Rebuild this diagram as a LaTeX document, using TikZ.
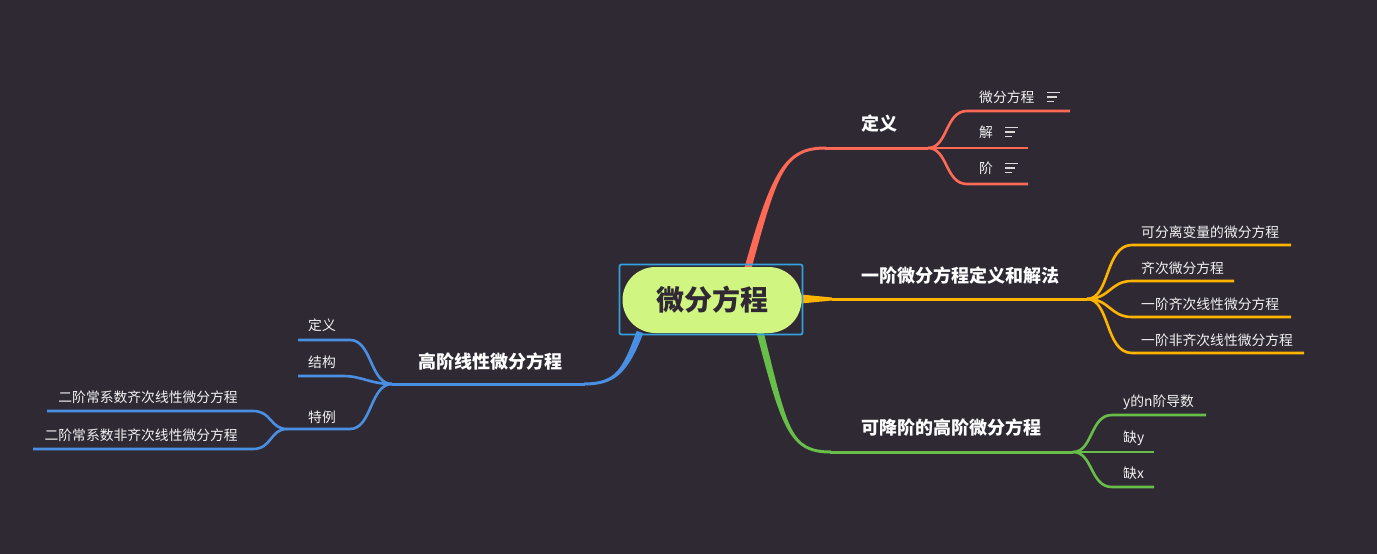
\documentclass[tikz,border=0pt]{standalone}
\usepackage{fontspec}
\usetikzlibrary{calc}
\setmainfont{Noto Sans CJK SC}
\begin{document}
\begin{tikzpicture}[x=1pt,y=-1pt,
  branch/.style={line width=3pt},
  leaf/.style={line width=2.6pt},
  topic/.style={anchor=west,inner sep=0pt,text=white,font=\fontsize{18}{18}\selectfont\bfseries},
  sub/.style={anchor=west,inner sep=0pt,text=white!95!black,font=\fontsize{13.8}{14}\selectfont},
  subr/.style={anchor=east,inner sep=0pt,text=white!95!black,font=\fontsize{13.8}{14}\selectfont},
  noteicon/.style={line width=1.1pt,draw=white!85!black}]
\definecolor{bg}{RGB}{47,41,52}
\definecolor{cred}{RGB}{255,106,86}
\definecolor{corange}{RGB}{255,180,0}
\definecolor{cgreen}{RGB}{103,190,72}
\definecolor{cblue}{RGB}{74,144,226}
\definecolor{cpill}{RGB}{208,245,128}
\definecolor{csel}{RGB}{52,160,222}
\definecolor{cdark}{RGB}{48,40,52}

\fill[bg] (0,0) rectangle (1377,554);
\useasboundingbox (0,0) rectangle (1377,554);

% junction points of the tree
\coordinate (root) at (712,300);
\coordinate (rk) at (825,148);
\coordinate (rj) at (928,148);
\coordinate (os) at (801,299);
\coordinate (ok) at (832,299);
\coordinate (oj) at (1087,299);
\coordinate (gk) at (830,452);
\coordinate (gj) at (1073,452);
\coordinate (bk) at (585,384);
\coordinate (bj) at (392,384);
\coordinate (tj) at (287,429);

% ---------- red: 定义 ----------
% tapered trunk leaving the central topic
\fill[cred] (744.6,267.1) .. controls (772.1,169.2) and (785,146.5) .. (826,146.5)
  -- (826,149.5) .. controls (785,149.5) and (777.9,170.8) .. (751.4,268.9) -- cycle;
\draw[cred,branch] (rk) -- (rj);
\draw[cred,leaf] (rj) .. controls (948,148) and (945,111) .. (967,111) -- (1070,111);
\draw[cred,leaf] (rj) -- (1028,148);
\draw[cred,leaf] (rj) .. controls (948,148) and (945,184) .. (967,184) -- (1028,184);
\node[topic] (def) at (861,124) {定义};
\node[sub] (r1) at (979,97) {微分方程};
\node[sub] (r2) at (979,132) {解};
\node[sub] (r3) at (979,168) {阶};
\foreach \x/\y in {1047/97,1005/132,1005/168}{
  \draw[noteicon] (\x,\y-4.5) -- ++(13,0);
  \draw[noteicon] (\x,\y) -- ++(10,0);
  \draw[noteicon] (\x,\y+4.5) -- ++(7,0);
}

% ---------- orange: 一阶 ----------
\fill[corange] ($(os)+(0,-4.5)$) -- ($(ok)+(0,-1.5)$) -- ($(ok)+(0,1.5)$) -- ($(os)+(0,4.5)$) -- cycle;
\draw[corange,branch] (ok) -- (oj);
\draw[corange,leaf] (oj) .. controls (1110,299) and (1105,245) .. (1132,245) -- (1291,245);
\draw[corange,leaf] (oj) .. controls (1110,299) and (1110,281) .. (1132,281) -- (1234,281);
\draw[corange,leaf] (oj) .. controls (1110,299) and (1110,317) .. (1132,317) -- (1291,317);
\draw[corange,leaf] (oj) .. controls (1110,299) and (1105,353) .. (1132,353) -- (1304,353);
\node[topic] (first) at (861,276) {一阶微分方程定义和解法};
\node[sub] (o1) at (1141,232) {可分离变量的微分方程};
\node[sub] (o2) at (1141,268) {齐次微分方程};
\node[sub] (o3) at (1141,304) {一阶齐次线性微分方程};
\node[sub] (o4) at (1141,340) {一阶非齐次线性微分方程};

% ---------- green: 可降阶 ----------
\fill[cgreen] (763.4,331.1) .. controls (787.9,429.3) and (790,450.5) .. (831,450.5)
  -- (831,453.5) .. controls (790,453.5) and (782.1,430.7) .. (756.6,332.9) -- cycle;
\draw[cgreen,branch] (gk) -- (gj);
\draw[cgreen,leaf] (gj) .. controls (1093,452) and (1090,415) .. (1112,415) -- (1206,415);
\draw[cgreen,leaf] (gj) -- (1154,452);
\draw[cgreen,leaf] (gj) .. controls (1093,452) and (1090,487) .. (1112,487) -- (1154,487);
\node[topic] (red) at (861,428) {可降阶的高阶微分方程};
\node[sub] (g1) at (1123,402) {y的n阶导数};
\node[sub] (g2) at (1123,438) {缺y};
\node[sub] (g3) at (1123,473) {缺x};

% ---------- blue: 高阶线性 ----------
\fill[cblue] (643.3,333.2) .. controls (627.8,373.1) and (615,385.5) .. (584,385.5)
  -- (584,382.5) .. controls (615,382.5) and (622.2,370.9) .. (636.7,330.8) -- cycle;
\draw[cblue,branch] (bk) -- (bj);
\draw[cblue,leaf] (bj) .. controls (370,384) and (372,340) .. (350,340) -- (298,340);
\draw[cblue,leaf] (bj) .. controls (370,384) and (362,376) .. (343,376) -- (298,376);
\draw[cblue,leaf] (bj) .. controls (370,384) and (372,429) .. (350,429) -- (tj);
\draw[cblue,leaf] (tj) .. controls (270,429) and (272,411) .. (253,411) -- (47,411);
\draw[cblue,leaf] (tj) .. controls (270,429) and (272,449) .. (253,449) -- (33,449);
\node[topic] (high) at (418,362) {高阶线性微分方程};
\node[sub] (b1) at (308,325) {定义};
\node[sub] (b2) at (308,362) {结构};
\node[sub] (b3) at (308,417) {特例};
\node[subr] (b4) at (238,397) {二阶常系数齐次线性微分方程};
\node[subr] (b5) at (238,435) {二阶常系数非齐次线性微分方程};

% ---------- central topic ----------
\draw[csel,line width=1.8pt,rounded corners=2pt] (619.5,264.5) rectangle (802.5,334.5);
\node[fill=cpill,rounded corners=33pt,minimum width=179pt,minimum height=66pt,inner sep=0pt,
  text=cdark,font=\fontsize{28}{28}\selectfont\bfseries] (center) at (root) {微分方程};
\end{tikzpicture}
\end{document}
